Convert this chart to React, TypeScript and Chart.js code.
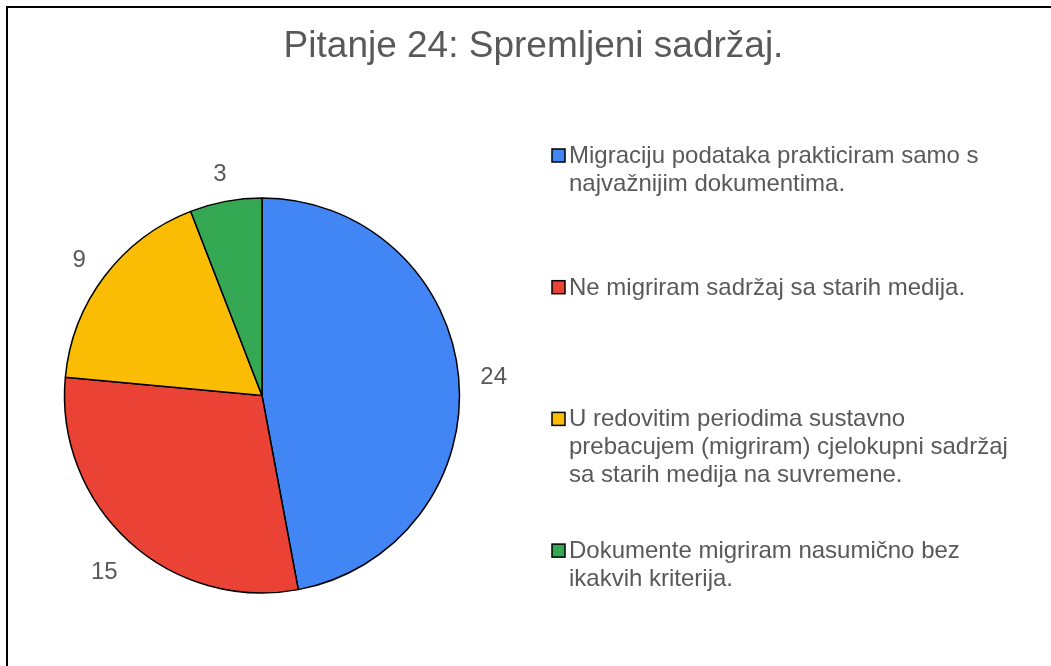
import React, { useEffect, useRef } from "react";
import { Chart, registerables } from "chart.js";

Chart.register(...registerables);

const chartTitle = "Pitanje 24: Spremljeni sadržaj.";
const categories: string[][] = [
  ["Migraciju podataka prakticiram samo s", "najvažnijim dokumentima."],
  ["Ne migriram sadržaj sa starih medija."],
  ["U redovitim periodima sustavno", "prebacujem (migriram) cjelokupni sadržaj", "sa starih medija na suvremene."],
  ["Dokumente migriram nasumično bez", "ikakvih kriterija."],
];
const values = [24, 15, 9, 3];
const colors = ["#4285F4", "#EA4335", "#FBBC04", "#34A853"];

const FONT = "'Liberation Sans', Arial, sans-serif";
const TEXT = "#595959";
const W = 1051;
const H = 658;

const overlayPlugin = {
  id: "overlay",
  afterDatasetsDraw(chart: any) {
    const ctx = chart.ctx as CanvasRenderingContext2D;
    ctx.save();
    // Title
    ctx.fillStyle = TEXT;
    ctx.font = `37px ${FONT}`;
    ctx.textAlign = "center";
    ctx.textBaseline = "alphabetic";
    ctx.fillText(chartTitle, 525.5, 49);

    // Data labels
    const meta = chart.getDatasetMeta(0);
    ctx.font = `24px ${FONT}`;
    ctx.textAlign = "center";
    ctx.textBaseline = "alphabetic";
    meta.data.forEach((arc: any, i: number) => {
      const { startAngle, endAngle, x, y, outerRadius } = arc.getProps(
        ["startAngle", "endAngle", "x", "y", "outerRadius"],
        true
      );
      const mid = (startAngle + endAngle) / 2;
      const dx = Math.cos(mid);
      const dy = Math.sin(mid);
      const txt = String(values[i]);
      const hw = ctx.measureText(txt).width / 2;
      const hh = 9;
      const d = outerRadius + 21 + hw * Math.abs(dx) + hh * Math.abs(dy);
      ctx.fillText(txt, x + dx * d, y + dy * d + 10);
    });

    // Legend
    ctx.textAlign = "left";
    ctx.textBaseline = "alphabetic";
    ctx.font = `24px ${FONT}`;
    const step = 131.7;
    categories.forEach((lines, i) => {
      const base = 155 + i * step;
      ctx.fillStyle = colors[i];
      ctx.fillRect(544, base - 14, 13, 13);
      ctx.strokeStyle = "#000";
      ctx.lineWidth = 1.5;
      ctx.strokeRect(544, base - 14, 13, 13);
      ctx.fillStyle = TEXT;
      lines.forEach((ln, j) => {
        ctx.fillText(ln, 561, base + j * 28);
      });
    });
    ctx.restore();
  },
};

export default function App() {
  const ref = useRef<HTMLCanvasElement | null>(null);
  useEffect(() => {
    if (!ref.current) return;
    const chart = new Chart(ref.current, {
      type: "pie",
      data: {
        labels: categories.map((c) => c.join(" ")),
        datasets: [
          {
            data: values,
            backgroundColor: colors,
            borderColor: "#000",
            borderWidth: 1.5,
            hoverOffset: 0,
          },
        ],
      },
      options: {
        responsive: false,
        animation: false,
        devicePixelRatio: 1,
        layout: {
          padding: { left: 55.75, top: 189.25, right: 598.75, bottom: 72.25 },
        },
        plugins: {
          legend: { display: false },
          title: { display: false },
          tooltip: { enabled: false },
        },
      },
      plugins: [overlayPlugin],
    });
    return () => chart.destroy();
  }, []);
  return (
    <div
      style={{
        position: "fixed",
        left: 6,
        top: 6,
        width: 1100,
        height: 700,
        borderLeft: "2px solid #000",
        borderTop: "2px solid #000",
        background: "#fff",
        overflow: "hidden",
      }}
    >
      <canvas ref={ref} width={W} height={H} style={{ display: "block", width: W, height: H }} />
    </div>
  );
}
